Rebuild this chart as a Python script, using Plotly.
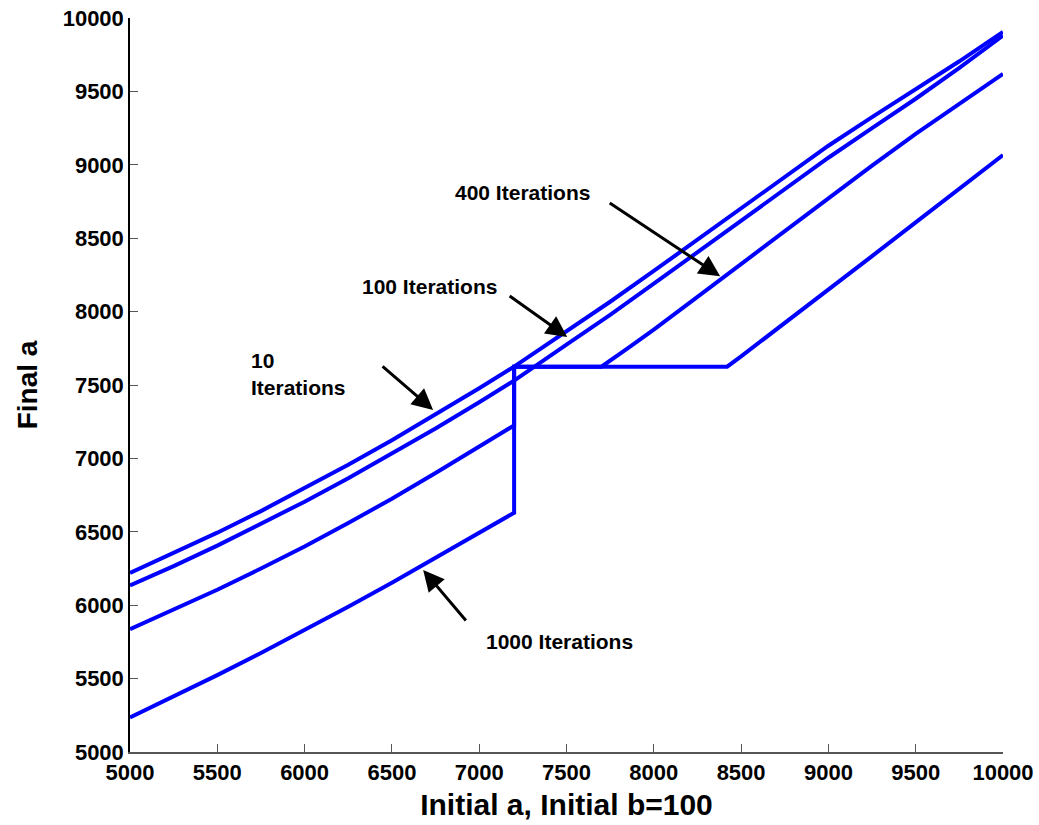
import plotly.graph_objects as go

# ---- data ----
x_10 = [5000, 5250, 5500, 5750, 6000, 6250, 6500, 6750, 7000, 7200, 7500, 7750,
        8000, 8250, 8500, 8750, 9000, 9250, 9500, 9750, 10000]
a_10 = [6220, 6354, 6494, 6641, 6795, 6956, 7123, 7297, 7478, 7625, 7862, 8067,
        8277, 8489, 8705, 8920, 9130, 9325, 9515, 9705, 9905]

x_100 = [5000, 5250, 5500, 5750, 6000, 6250, 6500, 6750, 7000, 7200, 7500, 7750,
         8000, 8250, 8500, 8750, 9000, 9250, 9500, 9750, 10000]
a_100 = [6135, 6266, 6406, 6552, 6705, 6865, 7031, 7204, 7383, 7530, 7775, 7978,
         8190, 8403, 8616, 8835, 9048, 9250, 9450, 9660, 9880]

x_400 = [5000, 5250, 5500, 5750, 6000, 6250, 6500, 6750, 7000, 7200, 7200, 7700,
         7850, 8000, 8250, 8500, 8750, 9000, 9250, 9500, 9750, 10000]
a_400 = [5836, 5967, 6105, 6250, 6400, 6560, 6725, 6900, 7080, 7225, 7625, 7625,
         7750, 7878, 8100, 8325, 8550, 8775, 8995, 9210, 9418, 9619]

x_1000 = [5000, 5250, 5500, 5750, 6000, 6250, 6500, 6750, 7000, 7200, 7200, 8420,
          8500, 8750, 9000, 9250, 9500, 9750, 10000]
a_1000 = [5235, 5378, 5524, 5675, 5830, 5990, 6153, 6322, 6494, 6630, 7625, 7625,
          7695, 7920, 8148, 8378, 8608, 8838, 9067]

tick_vals = [5000, 5500, 6000, 6500, 7000, 7500, 8000, 8500, 9000, 9500, 10000]
tick_text = [str(v) for v in tick_vals]

# labels: (text, x, y, align) and arrows: (tip_x, tip_y, tail_x, tail_y)
labels = [
    ("400 Iterations", 7246, 8808, "center"),
    ("100 Iterations", 6713, 8168, "center"),
    ("10<br>Iterations", 5682, 7575, "left"),
    ("1000 Iterations", 7458, 5756, "center"),
]
arrows = [
    (8380, 8240, 7739, 8747),
    (7504, 7827, 7166, 8113),
    (6736, 7330, 6438, 7636),
    (6679, 6240, 6931, 5886),
]

FONT = "Liberation Sans, Arial, Helvetica, sans-serif"
BLUE = "#0000FF"

fig = go.Figure()
for xs, ys in [(x_10, a_10), (x_100, a_100), (x_400, a_400), (x_1000, a_1000)]:
    fig.add_trace(go.Scatter(x=xs, y=ys, mode="lines",
                             line=dict(color=BLUE, width=4),
                             showlegend=False, hoverinfo="skip"))

annotations = []
for txt, x, y, al in labels:
    annotations.append(dict(
        x=x, y=y, xref="x", yref="y", text=txt, showarrow=False,
        xanchor="left" if al == "left" else "center", yanchor="middle",
        align=al,
        font=dict(family=FONT, size=21, color="black", weight="bold")))
for tx, ty, sx, sy in arrows:
    annotations.append(dict(
        x=tx, y=ty, xref="x", yref="y", ax=sx, ay=sy, axref="x", ayref="y",
        text="", showarrow=True, arrowhead=2, arrowsize=1.4, arrowwidth=3,
        arrowcolor="black", standoff=0, startstandoff=0))

fig.update_layout(
    width=1039, height=825,
    margin=dict(l=130, r=36, t=18, b=73, autoexpand=False),
    paper_bgcolor="white", plot_bgcolor="white",
    annotations=annotations,
    xaxis=dict(
        range=[5000, 10000], tickvals=tick_vals, ticktext=tick_text,
        automargin=False,
        showgrid=False, zeroline=False, showline=True, linecolor="#555555",
        linewidth=1.5, ticks="inside", ticklen=8, tickcolor="#555555",
        tickfont=dict(family=FONT, size=22, color="black", weight="bold"),
        title=dict(text="Initial a, Initial b=100", standoff=10,
                   font=dict(family=FONT, size=30, color="black", weight="bold")),
    ),
    yaxis=dict(
        range=[5000, 10000], tickvals=tick_vals, ticktext=tick_text,
        automargin=False,
        showgrid=False, zeroline=False, showline=True, linecolor="black",
        linewidth=1.5, ticks="inside", ticklen=8, tickcolor="#555555",
        tickfont=dict(family=FONT, size=22, color="black", weight="bold"),
        title=dict(text="Final a", standoff=17,
                   font=dict(family=FONT, size=28, color="black", weight="bold")),
    ),
)

fig.write_html("out.html", config={"displayModeBar": False},
               post_script="document.body.style.margin='0';document.body.style.overflow='hidden';")
